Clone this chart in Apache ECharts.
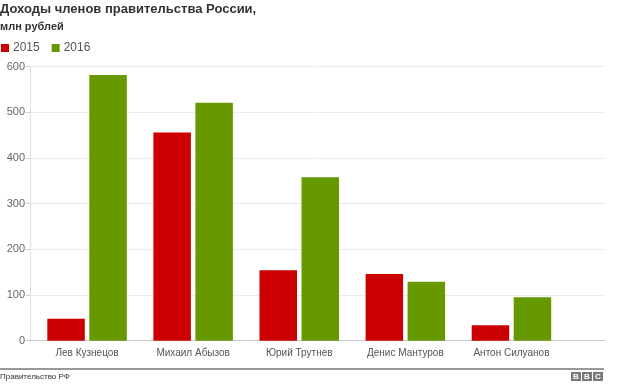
<!DOCTYPE html>
<html><head><meta charset="utf-8">
<script src="https://cdn.jsdelivr.net/npm/echarts@6/dist/echarts.min.js"></script>
<style>html,body{margin:0;padding:0;background:#fff}#c{width:624px;height:384px}</style>
</head><body><div id="c"></div>
<script>
var titleText = 'Доходы членов правительства России,';
var subtitleText = 'млн рублей';
var sourceText = 'Правительство РФ';
var categories = ['Лев Кузнецов', 'Михаил Абызов', 'Юрий Трутнев', 'Денис Мантуров', 'Антон Силуанов'];
var seriesNames = ['2015', '2016'];
var values2015 = [48, 456, 154, 146, 34];
var values2016 = [582, 521, 358, 129, 95];
var yTicks = [0, 100, 200, 300, 400, 500, 600];

var font = 'Liberation Sans, Arial, sans-serif';
var gridTop = 66.7, gridBottom = 384 - 340.7;
var chart = echarts.init(document.getElementById('c'), null, {renderer: 'canvas'});
chart.setOption({
  animation: false,
  textStyle: {fontFamily: font},
  title: [
    {text: titleText, left: 0, top: 3, padding: 0,
     textStyle: {fontFamily: font, fontSize: 13, fontWeight: 'bold', color: '#333'}},
    {text: subtitleText, left: 0, top: 21, padding: 0,
     textStyle: {fontFamily: font, fontSize: 11, fontWeight: 'bold', color: '#333'}}
  ],
  legend: {
    left: 1, top: 42, padding: 0, itemWidth: 8, itemHeight: 8, itemGap: 12, icon: 'rect',
    textStyle: {fontFamily: font, fontSize: 12, color: '#555', padding: [1, 0, 0, -1]},
    data: seriesNames
  },
  grid: [
    {left: 30, right: 19, top: gridTop, bottom: gridBottom},
    {left: 34, right: 59.5, top: gridTop, bottom: gridBottom}
  ],
  xAxis: [
    {gridIndex: 0, type: 'value', min: 0, max: 1, axisLabel: {show: false}, splitLine: {show: false},
     axisTick: {show: false}, axisLine: {show: true, lineStyle: {color: '#ccc', width: 1}}},
    {gridIndex: 1, type: 'category', data: categories,
     axisLine: {show: false}, axisTick: {show: false},
     axisLabel: {interval: 0, fontFamily: font, fontSize: 10, color: '#555', margin: 8}}
  ],
  yAxis: [
    {gridIndex: 0, type: 'value', min: yTicks[0], max: yTicks[yTicks.length - 1], interval: 100,
     axisLine: {show: true, lineStyle: {color: '#e0e0e0'}},
     axisTick: {show: true, length: 4, lineStyle: {color: '#ccc'}},
     axisLabel: {fontFamily: font, fontSize: 11, color: '#666', margin: 5},
     splitLine: {show: true, lineStyle: {color: '#ececec'}}},
    {gridIndex: 1, type: 'value', min: yTicks[0], max: yTicks[yTicks.length - 1], show: false}
  ],
  series: [
    {name: seriesNames[0], type: 'bar', xAxisIndex: 1, yAxisIndex: 1, data: values2015,
     barWidth: 37.5, barGap: '12%', itemStyle: {color: '#cc0000'}},
    {name: seriesNames[1], type: 'bar', xAxisIndex: 1, yAxisIndex: 1, data: values2016,
     barWidth: 37.5, barGap: '12%', itemStyle: {color: '#669900'}}
  ],
  graphic: [
    {type: 'rect', shape: {x: 0, y: 368, width: 604, height: 2}, style: {fill: '#999'}},
    {type: 'text', left: 0, top: 373, style: {text: sourceText, font: '8px ' + font, fill: '#333'}},
    {type: 'rect', shape: {x: 571, y: 372, width: 10, height: 9}, style: {fill: '#7a7a7a'}},
    {type: 'rect', shape: {x: 582, y: 372, width: 10, height: 9}, style: {fill: '#7a7a7a'}},
    {type: 'rect', shape: {x: 593, y: 372, width: 10, height: 9}, style: {fill: '#7a7a7a'}},
    {type: 'text', x: 576, y: 376.5, style: {text: 'B', font: 'bold 8px ' + font, fill: '#fff', align: 'center', verticalAlign: 'middle'}},
    {type: 'text', x: 587, y: 376.5, style: {text: 'B', font: 'bold 8px ' + font, fill: '#fff', align: 'center', verticalAlign: 'middle'}},
    {type: 'text', x: 598, y: 376.5, style: {text: 'C', font: 'bold 8px ' + font, fill: '#fff', align: 'center', verticalAlign: 'middle'}}
  ]
});
</script>
</body></html>
